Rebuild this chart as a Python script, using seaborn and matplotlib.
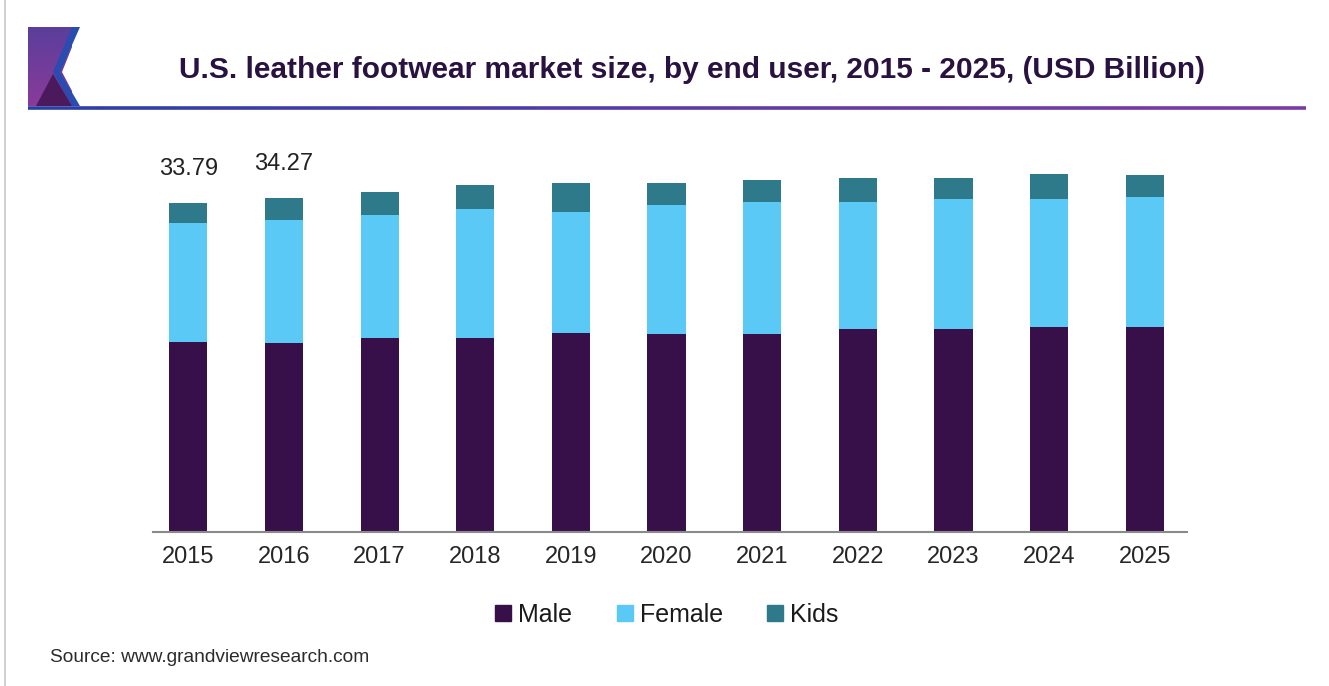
import matplotlib
matplotlib.use("Agg")
import matplotlib.pyplot as plt
from matplotlib.patches import Polygon
from matplotlib.lines import Line2D
import numpy as np
import pandas as pd
import seaborn as sns

years = ["2015", "2016", "2017", "2018", "2019", "2020", "2021", "2022", "2023", "2024", "2025"]
male = [19.45, 19.42, 19.93, 19.93, 20.38, 20.34, 20.34, 20.79, 20.79, 21.03, 21.03]
female = [12.20, 12.58, 12.58, 13.23, 12.47, 13.17, 13.54, 13.06, 13.33, 13.10, 13.33]
kids = [2.14, 2.27, 2.36, 2.40, 2.97, 2.32, 2.19, 2.49, 2.15, 2.56, 2.23]
labelled_totals = {"2015": "33.79", "2016": "34.27"}

series_names = ["Male", "Female", "Kids"]
series_colors = ["#37104a", "#5bc9f5", "#2e7a8a"]

df = pd.DataFrame({"year": years, "Male": male, "Female": female, "Kids": kids})
df["male_female"] = df["Male"] + df["Female"]
df["total"] = df["male_female"] + df["Kids"]

sns.set_theme(style="white")
plt.rcParams["font.family"] = ["Liberation Sans", "DejaVu Sans"]

fig = plt.figure(figsize=(13.29, 6.86), dpi=100)
ax = fig.add_axes([0.1151, 0.2245, 0.778, 0.5685])

# stacked bars: draw cumulative heights back to front
for col, color in [("total", series_colors[2]), ("male_female", series_colors[1]), ("Male", series_colors[0])]:
    sns.barplot(data=df, x="year", y=col, color=color, width=0.40,
                saturation=1, ax=ax, linewidth=0)

ax.set_xlim(-0.37, 10.44)
ax.set_ylim(0, 40)
ax.set_xlabel("")
ax.set_ylabel("")
ax.set_yticks([])
ax.tick_params(axis="x", length=0, labelsize=17, labelcolor="#262626", pad=10)
for s in ["top", "right", "left"]:
    ax.spines[s].set_visible(False)
ax.spines["bottom"].set_color("#8a8a8a")
ax.spines["bottom"].set_linewidth(1.5)

for i, y in enumerate(years):
    if y in labelled_totals:
        ax.annotate(labelled_totals[y], (i, df["total"][i]), xytext=(0, 24.5),
                    textcoords="offset points", ha="center", va="center",
                    fontsize=17, color="#222222")

handles = [Line2D([0], [0], marker="s", linestyle="", markersize=11.5,
                  markerfacecolor=c, markeredgecolor=c) for c in series_colors]
fig.legend(handles, series_names, loc="center", bbox_to_anchor=(0.50, 1 - 615 / 686),
           ncol=3, frameon=False, fontsize=18, handlelength=1.0, handletextpad=0.1,
           columnspacing=1.6, labelcolor="#1a1a1a")

# header: logo, title and gradient rule
fig.text(0.521, 1 - 70 / 686, "U.S. leather footwear market size, by end user, 2015 - 2025, (USD Billion)",
         ha="center", va="center", fontsize=21.5, fontweight="bold", color="#2a1240")

W, H = 1329, 686

ov = fig.add_axes([0, 0, 1, 1], facecolor="none")
ov.set_xlim(0, W)
ov.set_ylim(H, 0)
ov.axis("off")

# gradient rule under the title
n = 200
xs = np.linspace(28, 1306, n + 1)
cmap = matplotlib.colors.LinearSegmentedColormap.from_list("rule", ["#2b3fa3", "#5a3aa8", "#7b3aa8"])
for k in range(n):
    ov.plot([xs[k], xs[k + 1]], [107.5, 107.5], color=cmap(k / n), lw=2.6, solid_capstyle="butt")

# logo
grad = np.linspace(0, 1, 100).reshape(-1, 1)
logo_cmap = matplotlib.colors.LinearSegmentedColormap.from_list("logo", ["#5a3f9a", "#8a3a9a"])
ov.imshow(grad, extent=(28, 72, 106, 27), cmap=logo_cmap, aspect="auto", zorder=1)
ov.add_patch(Polygon([[72, 27], [80, 27], [80, 106], [72, 106]], closed=True, facecolor="white", edgecolor="none", zorder=2))
ov.add_patch(Polygon([[72, 27], [80, 27], [60, 72], [80, 106], [72, 106], [53, 72]],
                     closed=True, facecolor="#2a4bb0", edgecolor="none", zorder=3))
ov.add_patch(Polygon([[80, 27], [90, 27], [90, 106], [80, 106], [62, 72]], closed=True, facecolor="white", edgecolor="none", zorder=2))
ov.add_patch(Polygon([[36, 106], [53, 74], [72, 106]], closed=True, facecolor="#4a1a5c", edgecolor="none", zorder=4))

# left frame line
ov.plot([4.5, 4.5], [0, H], color="#c8c8c8", lw=1.2)

fig.text(50 / W, 1 - 657 / H, "Source: www.grandviewresearch.com", ha="left", va="center",
         fontsize=13.8, color="#2b2b2b")

fig.savefig("out.png", dpi=100, facecolor="white")
